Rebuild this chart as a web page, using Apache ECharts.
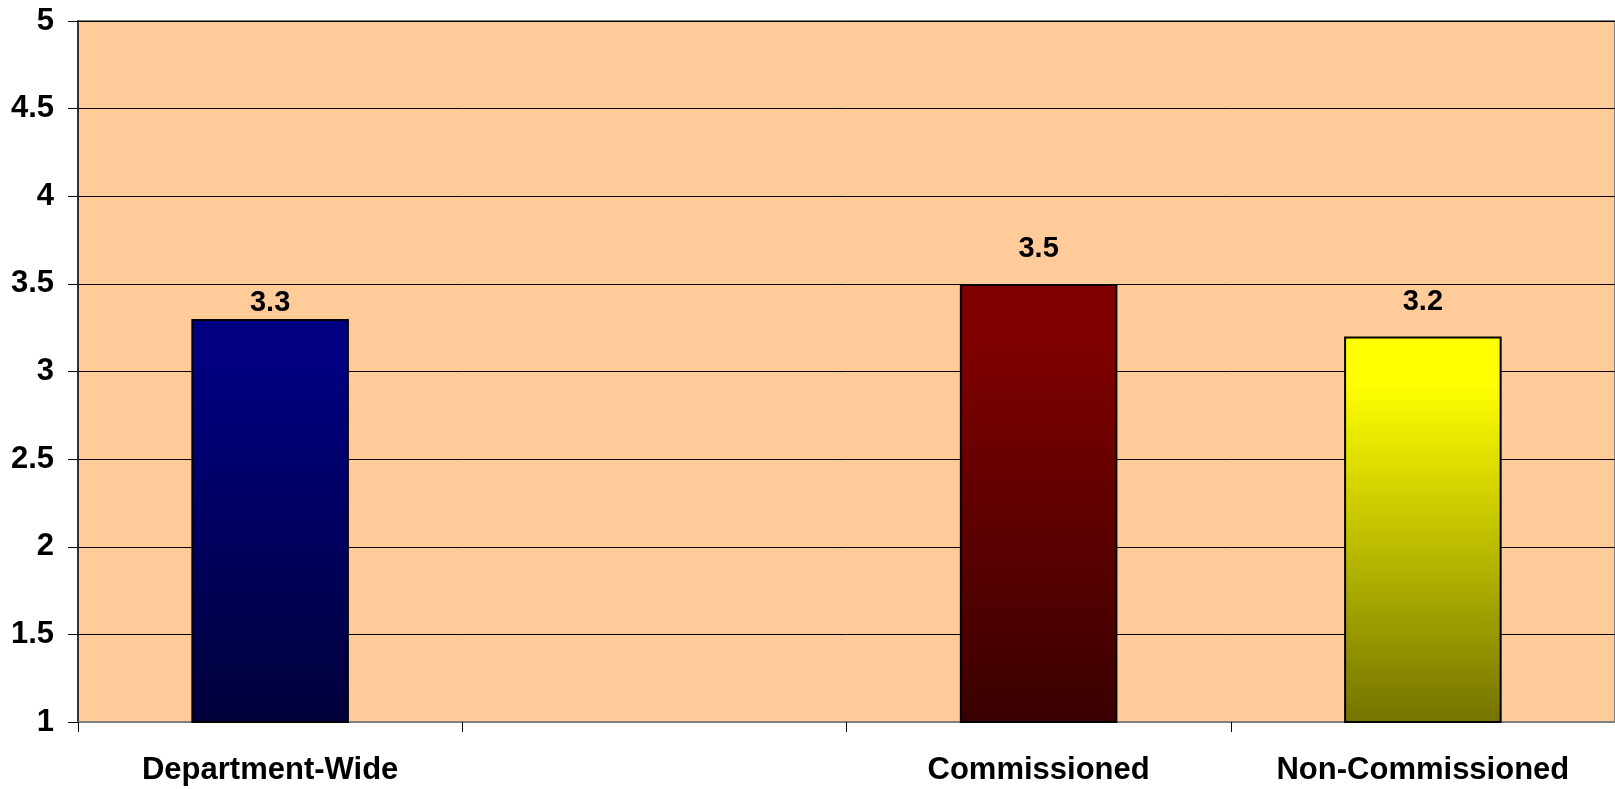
<!DOCTYPE html>
<html>
<head>
<meta charset="utf-8">
<script src="https://cdn.jsdelivr.net/npm/echarts@6/dist/echarts.min.js"></script>
<style>
html,body{margin:0;padding:0;background:#fff;}
#chart{width:1615px;height:789px;}
</style>
</head>
<body>
<div id="chart"></div>
<script>
const categories = ['Department-Wide', '', 'Commissioned', 'Non-Commissioned'];
const values = [3.3, null, 3.5, 3.2];
const barTopColors = ['#000080', null, '#800000', '#FFFF00'];
const barBottomColors = ['#00003a', null, '#3a0000', '#737300'];
const yTicks = { min: 1, max: 5, interval: 0.5 };

const FONT = '"Liberation Sans", Arial, sans-serif';

function grad(top, bottom) {
  return new echarts.graphic.LinearGradient(0, 0, 0, 1, [
    { offset: 0, color: top },
    { offset: 0.12, color: top },
    { offset: 1, color: bottom }
  ]);
}

const seriesData = values.map((v, i) => {
  if (v === null) return '-';
  return {
    value: v,
    itemStyle: { color: grad(barTopColors[i], barBottomColors[i]) },
    label: { distance: i === 0 ? 1 : 20 }
  };
});

const chart = echarts.init(document.getElementById('chart'), null, { renderer: 'canvas' });
chart.setOption({
  backgroundColor: '#ffffff',
  animation: false,
  grid: {
    left: 78, top: 21, right: 0, bottom: 67,
    show: true, backgroundColor: '#FFCC99',
    borderColor: '#808080', borderWidth: 2
  },
  xAxis: {
    type: 'category',
    data: categories,
    axisLine: { show: true, lineStyle: { color: '#808080', width: 2 } },
    axisTick: { show: true, length: 10, lineStyle: { color: '#000', width: 1 } },
    axisLabel: {
      margin: 33, color: '#000', fontSize: 31, fontWeight: 'bold', fontFamily: FONT,
      interval: 0
    },
    splitLine: { show: false }
  },
  yAxis: {
    type: 'value',
    min: yTicks.min, max: yTicks.max, interval: yTicks.interval,
    axisLine: { show: true, lineStyle: { color: '#333', width: 2 } },
    axisTick: { show: true, length: 10, lineStyle: { color: '#000', width: 1 } },
    axisLabel: { margin: 24, color: '#000', fontSize: 31, fontWeight: 'bold', fontFamily: FONT },
    splitLine: { show: true, lineStyle: { color: '#000', width: 1 } }
  },
  series: [{
    type: 'bar',
    data: seriesData,
    barWidth: '41%',
    itemStyle: { borderColor: '#000', borderWidth: 2 },
    label: {
      show: true, position: 'top', color: '#000',
      fontSize: 29, fontWeight: 'bold', fontFamily: FONT
    }
  }]
});
</script>
</body>
</html>
